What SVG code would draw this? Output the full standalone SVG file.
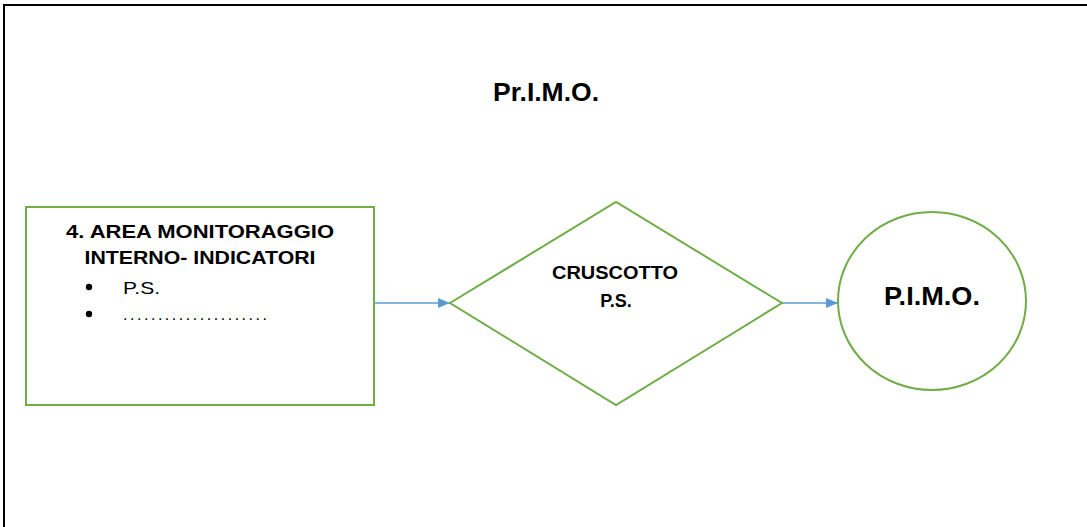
<svg xmlns="http://www.w3.org/2000/svg" width="1087" height="527" viewBox="0 0 1087 527">
<style>
.shape{fill:#fff;stroke:#70AD47;stroke-width:2}
.b{font-family:"Liberation Sans",Arial,sans-serif;font-weight:bold;fill:#000}
.r{font-family:"Liberation Sans",Arial,sans-serif;fill:#000}
.conn{stroke:#5B9BD5;stroke-width:1.3;fill:none}
</style>
<defs>
<marker id="ah" markerWidth="12" markerHeight="10" refX="12" refY="5" orient="auto" markerUnits="userSpaceOnUse">
<path d="M0,0 L12,5 L0,10 Z" fill="#5B9BD5"/>
</marker>
</defs>
<rect width="1087" height="527" fill="#fff"/>
<path d="M4,527 V5 H1087" fill="none" stroke="#000" stroke-width="2"/>
<text class="b" x="546" y="101" font-size="25" text-anchor="middle" textLength="106" lengthAdjust="spacingAndGlyphs">Pr.I.M.O.</text>
<g id="connectors">
<line class="conn" x1="374" y1="303" x2="450" y2="303" marker-end="url(#ah)"/>
<line class="conn" x1="782" y1="303" x2="838" y2="303" marker-end="url(#ah)"/>
</g>
<g id="area">
<rect class="shape" x="26" y="207" width="348" height="198"/>
<text class="b" x="200" y="238" font-size="17.5" text-anchor="middle" textLength="268" lengthAdjust="spacingAndGlyphs">4. AREA MONITORAGGIO</text>
<text class="b" x="200" y="264" font-size="17.5" text-anchor="middle" textLength="231" lengthAdjust="spacingAndGlyphs">INTERNO- INDICATORI</text>
<circle cx="89" cy="287" r="3.2" fill="#000"/>
<circle cx="89" cy="314" r="3.2" fill="#000"/>
<text class="r" x="123" y="294" font-size="17" textLength="37" lengthAdjust="spacingAndGlyphs">P.S.</text>
<text class="r" x="123" y="320" font-size="16" textLength="144" lengthAdjust="spacing">.....................</text>
</g>
<g id="cruscotto">
<polygon class="shape" points="450,303 616,202 782,303 616,405"/>
<text class="b" x="615" y="279" font-size="18" text-anchor="middle" textLength="126" lengthAdjust="spacingAndGlyphs">CRUSCOTTO</text>
<text class="b" x="616" y="307" font-size="18" text-anchor="middle">P.S.</text>
</g>
<g id="pimo">
<ellipse class="shape" cx="932" cy="301" rx="94" ry="89"/>
<text class="b" x="932" y="305" font-size="25" text-anchor="middle" textLength="96" lengthAdjust="spacingAndGlyphs">P.I.M.O.</text>
</g>
</svg>
